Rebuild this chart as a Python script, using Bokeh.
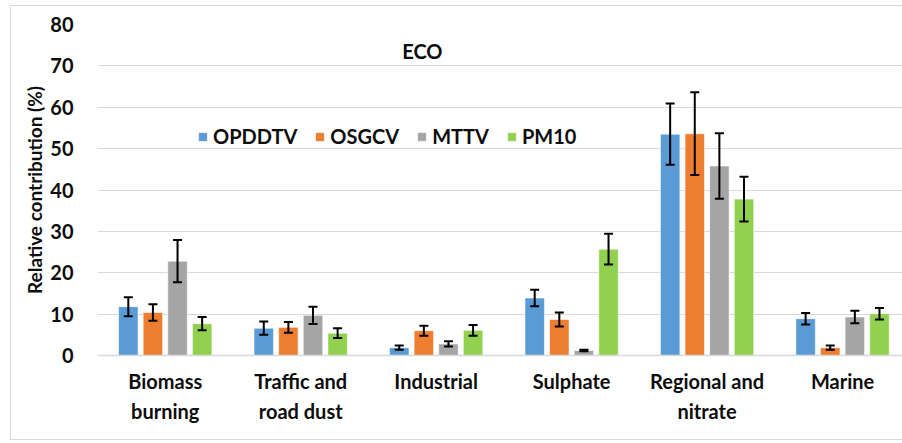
from bokeh.embed import file_html
from bokeh.resources import INLINE
from bokeh.plotting import figure
from bokeh.models import (ColumnDataSource, Range1d, FixedTicker, Whisker, TeeHead,
                          Legend, LegendItem, Label)

# Source categories and series (relative contribution, %)
categories = ["Biomass\nburning", "Traffic and\nroad dust", "Industrial",
              "Sulphate", "Regional and\nnitrate", "Marine"]
series_names = ["OPDDTV", "OSGCV", "MTTV", "PM10"]

opddtv = [11.8, 6.6, 1.9, 13.9, 53.5, 8.9]
opddtv_err = [2.3, 1.6, 0.5, 2.0, 7.4, 1.4]
osgcv = [10.4, 6.8, 6.0, 8.7, 53.6, 1.9]
osgcv_err = [2.0, 1.3, 1.2, 1.7, 10.0, 0.5]
mttv = [22.8, 9.7, 2.8, 1.2, 45.8, 9.3]
mttv_err = [5.1, 2.1, 0.65, 0.2, 7.9, 1.5]
pm10 = [7.7, 5.4, 6.1, 25.7, 37.8, 10.1]
pm10_err = [1.6, 1.2, 1.3, 3.7, 5.4, 1.4]

y_ticks = [0, 10, 20, 30, 40, 50, 60, 70, 80]

colors = ["#5B9BD5", "#ED7D31", "#A5A5A5", "#92D050"]
values = [opddtv, osgcv, mttv, pm10]
errors = [opddtv_err, osgcv_err, mttv_err, pm10_err]

FONT = "Lato"
TEXT = "#0d0d0d"
FS = "20px"

p = figure(width=892, height=435, output_backend="svg", toolbar_location=None,
           x_range=Range1d(0, 5.95), y_range=Range1d(0, 80),
           min_border_left=86, min_border_right=0, min_border_top=18,
           min_border_bottom=86)
p.styles = {"margin-left": "10px", "margin-top": "5px",
            "border-left": "1px solid #d9d9d9", "border-top": "1px solid #d9d9d9",
            "border-bottom": "1px solid #d9d9d9"}
p.outline_line_color = None
p.background_fill_color = "white"

pitch = 0.1817
bar_w = 0.144
items = []
for k, (name, vals, errs, col) in enumerate(zip(series_names, values, errors, colors)):
    off = (k - 1.5) * pitch
    xs = [i + 0.5 + off for i in range(len(categories))]
    src = ColumnDataSource(dict(
        x=xs, top=vals,
        upper=[v + e for v, e in zip(vals, errs)],
        lower=[v - e for v, e in zip(vals, errs)],
    ))
    r = p.vbar(x="x", top="top", width=bar_w, source=src, fill_color=col,
               line_color="white", line_width=0.6)
    w = Whisker(source=src, base="x", upper="upper", lower="lower",
                level="overlay", line_color="black", line_width=2,
                upper_head=TeeHead(size=9, line_width=2, line_color="black"),
                lower_head=TeeHead(size=9, line_width=2, line_color="black"))
    p.add_layout(w)
    items.append(LegendItem(label=name, renderers=[r]))

legend = Legend(items=items, orientation="horizontal", location=(100, 207),
                glyph_width=11, glyph_height=11, label_standoff=5, spacing=17,
                padding=0, margin=0, border_line_color=None,
                background_fill_alpha=0,
                label_text_font=FONT, label_text_font_style="bold",
                label_text_font_size=FS, label_text_color=TEXT)
p.add_layout(legend)

# axes
p.xaxis.ticker = FixedTicker(ticks=[i + 0.5 for i in range(len(categories))])
p.xaxis.major_label_overrides = {i + 0.5: c for i, c in enumerate(categories)}
p.xaxis.major_tick_line_color = None
p.xaxis.minor_tick_line_color = None
p.xaxis.axis_line_color = "#d9d9d9"
p.xaxis.axis_line_width = 1.5
p.xaxis.major_label_standoff = 7
p.xaxis.major_label_text_font = FONT
p.xaxis.major_label_text_font_style = "bold"
p.xaxis.major_label_text_font_size = FS
p.xaxis.major_label_text_color = TEXT
p.xaxis.major_label_text_line_height = 1.25

p.yaxis.ticker = FixedTicker(ticks=y_ticks)
p.yaxis.major_tick_line_color = None
p.yaxis.minor_tick_line_color = None
p.yaxis.axis_line_color = None
p.yaxis.major_label_standoff = 18
p.yaxis.major_label_text_font = FONT
p.yaxis.major_label_text_font_style = "bold"
p.yaxis.major_label_text_font_size = FS
p.yaxis.major_label_text_color = TEXT
p.yaxis.axis_label = "Relative contribution (%)"
p.yaxis.axis_label_standoff = 1
p.yaxis.axis_label_text_font = FONT
p.yaxis.axis_label_text_font_style = "bold"
p.yaxis.axis_label_text_font_size = "19px"
p.yaxis.axis_label_text_color = TEXT

p.xgrid.grid_line_color = None
p.ygrid.grid_line_color = "#d9d9d9"
p.ygrid.grid_line_width = 1

# chart title inside the plotting area
p.add_layout(Label(x=2.398, y=73.7, text="ECO",
                   text_align="center", text_baseline="middle",
                   text_font=FONT, text_font_style="bold",
                   text_font_size="20px", text_color=TEXT))

open("out.html", "w").write(file_html(p, INLINE))
